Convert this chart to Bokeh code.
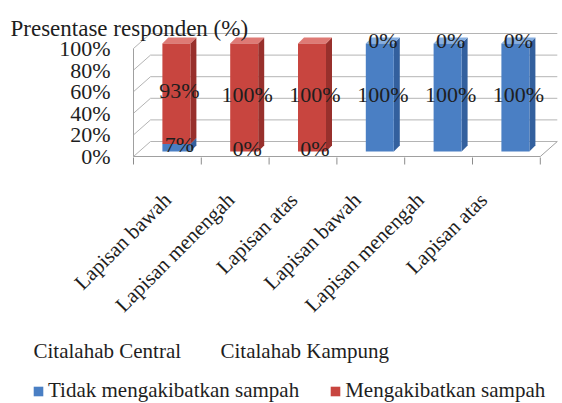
import math
from bokeh.plotting import figure
from bokeh.models import Range1d, Legend, LegendItem
from bokeh.embed import file_html
from bokeh.resources import INLINE
from bokeh.core.properties import value

# ---------------- data ----------------
title_text = "Presentase responden (%)"
categories = ["Lapisan bawah", "Lapisan menengah", "Lapisan atas",
              "Lapisan bawah", "Lapisan menengah", "Lapisan atas"]
groups = ["Citalahab Central", "Citalahab Kampung"]
series_names = ["Tidak mengakibatkan sampah", "Mengakibatkan sampah"]
tidak = [7, 0, 0, 100, 100, 100]
mengakibatkan = [93, 100, 100, 0, 0, 0]
y_ticks = [0, 20, 40, 60, 80, 100]

# ---------------- geometry / style ----------------
FONT = "Liberation Serif"
TXT = "#1e1e1e"
GRID = "#b4b4b4"

W, H = 562, 403
CAT_PX = 67.8          # pixels per category
PCT_PX = 1.08          # pixels per percent
ORIGIN_X, ORIGIN_Y = 133, 156   # canvas pixel of (x=0, 0%)

n = len(categories)
x_start = -ORIGIN_X / CAT_PX
x_end = x_start + W / CAT_PX
y_end = ORIGIN_Y / PCT_PX
y_start = y_end - H / PCT_PX


def X(px):   # canvas-pixel x offset from the origin -> data x
    return px / CAT_PX


def Y(py):   # canvas-pixel y offset (upwards) from the origin -> data y
    return py / PCT_PX


# 3D offsets
WDX, WDY = X(17), Y(15)     # back wall offset
FDX, FDY = X(9), Y(5)       # bar front-face offset
DDX, DDY = X(6), Y(6)       # bar depth
HW = X(14)                  # half bar width

p = figure(width=W, height=H, x_range=Range1d(x_start, x_end), y_range=Range1d(y_start, y_end),
           output_backend="svg", toolbar_location=None, title=None,
           x_axis_location=None, y_axis_location=None,
           min_border=0, min_border_left=0, min_border_right=0,
           min_border_top=0, min_border_bottom=0)
p.outline_line_color = None
p.xgrid.visible = False
p.ygrid.visible = False
p.background_fill_color = "white"

# ---------------- walls ----------------
top_tick = max(y_ticks)
back_xs = [[WDX, n + WDX] for t in y_ticks]
back_ys = [[t + WDY, t + WDY] for t in y_ticks]
side_xs = [[0, WDX] for t in y_ticks]
side_ys = [[t, t + WDY] for t in y_ticks]
p.multi_line(back_xs + side_xs, back_ys + side_ys, line_color=GRID, line_width=1)
p.multi_line([[0, n], [n, n + WDX], [0, 0]],
             [[0, 0], [0, WDY], [0, top_tick]],
             line_color="#a0a0a0", line_width=1)
# category boundary tick marks under the floor
bounds = list(range(n + 1))
p.segment(x0=bounds, y0=[Y(-1)] * len(bounds), x1=bounds, y1=[Y(-8)] * len(bounds),
          line_color="#8c8c8c", line_width=1)

# ---------------- bars ----------------
palette = {
    0: dict(front="#4a7fc4", side="#33609e", top="#86aee0"),
    1: dict(front="#c8453f", side="#98302c", top="#de7a75"),
}

bottoms = [0] * n
front_renderers = []
for s, vals in enumerate([tidak, mengakibatkan]):
    fx, fy, sx_, sy_, tx, ty = [], [], [], [], [], []
    for i, v in enumerate(vals):
        b = bottoms[i]
        t = b + v
        if v > 0:
            x0 = i + 0.5 + FDX - HW
            x1 = i + 0.5 + FDX + HW
            y0 = b + FDY
            y1 = t + FDY
            fx.append([x0, x1, x1, x0]); fy.append([y0, y0, y1, y1])
            sx_.append([x1, x1 + DDX, x1 + DDX, x1]); sy_.append([y0, y0 + DDY, y1 + DDY, y1])
            tx.append([x0, x1, x1 + DDX, x0 + DDX]); ty.append([y1, y1, y1 + DDY, y1 + DDY])
    c = palette[s]
    p.patches(sx_, sy_, fill_color=c["side"], line_color=None)
    p.patches(tx, ty, fill_color=c["top"], line_color=None)
    fr = p.patches(fx, fy, fill_color=c["front"], line_color=None)
    front_renderers.append(fr)
    for i, v in enumerate(vals):
        bottoms[i] += v

# ---------------- data labels ----------------
lx, ly, lt = [], [], []
bottoms = [0] * n
for vals in [tidak, mengakibatkan]:
    for i, v in enumerate(vals):
        lx.append(i + 0.5 + FDX + DDX / 2)
        ly.append(bottoms[i] + v / 2 + FDY + DDY / 2)
        lt.append(f"{v}%")
        bottoms[i] += v
p.text(x=lx, y=ly, text=lt, text_font=value(FONT), text_font_size=value("22px"),
       text_color=TXT, text_align="center", text_baseline="middle")

# ---------------- value axis labels ----------------
p.text(x=[X(-23)] * len(y_ticks), y=y_ticks, text=[f"{t}%" for t in y_ticks],
       text_font=value(FONT), text_font_size=value("22px"), text_color=TXT,
       text_align="right", text_baseline="middle")

# ---------------- category labels (Excel perspective compresses the label row) ----------------
LABEL_SCALE, LABEL_SHIFT = 0.932, 0.036
label_x = [(i + 0.5) * LABEL_SCALE + LABEL_SHIFT for i in range(n)]
p.text(x=label_x, y=[Y(-40)] * n, text=categories, angle=math.pi / 4,
       text_font=value(FONT), text_font_size=value("21px"), text_color=TXT,
       text_align="right", text_baseline="middle")

# group labels
p.text(x=[X(33 - 133), X(220 - 133)], y=[Y(156 - 350)] * 2, text=groups,
       text_font=value(FONT), text_font_size=value("21px"), text_color=TXT,
       text_align="left", text_baseline="alphabetic")

# title
p.text(x=[X(10 - 133)], y=[Y(156 - 28)], text=[title_text],
       text_font=value(FONT), text_font_size=value("23px"), text_color=TXT,
       text_align="left", text_baseline="alphabetic")

# ---------------- legend ----------------
legend = Legend(items=[LegendItem(label=series_names[k], renderers=[front_renderers[k]])
                       for k in range(2)],
                orientation="horizontal", location=(32, 0))
legend.background_fill_alpha = 0
legend.border_line_color = None
legend.padding = 0
legend.margin = 0
legend.spacing = 30
legend.glyph_width = 12
legend.glyph_height = 12
legend.label_standoff = 4
legend.label_text_font = FONT
legend.label_text_font_size = "21px"
legend.label_text_color = TXT
p.add_layout(legend)

open("out.html", "w").write(file_html(p, INLINE))
